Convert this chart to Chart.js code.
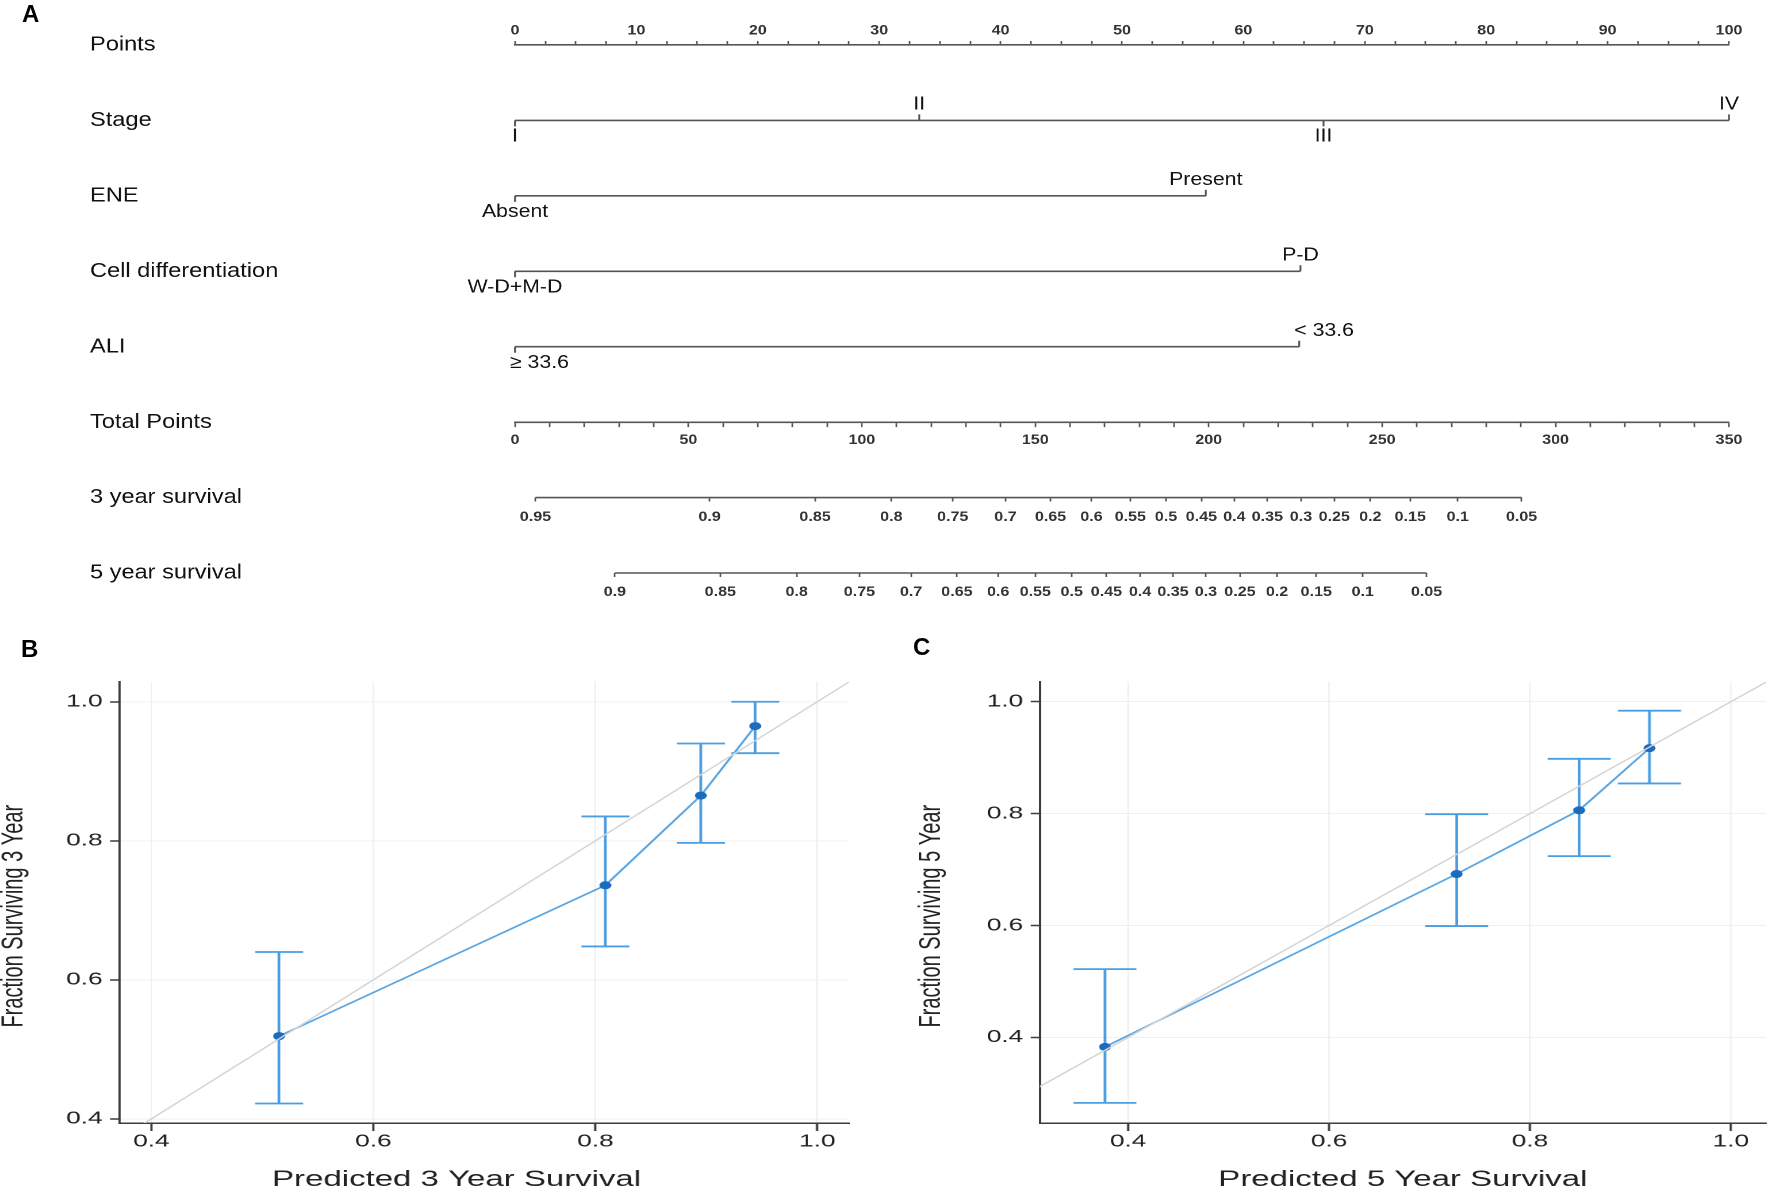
<!DOCTYPE html>
<html>
<head>
<meta charset="utf-8">
<title>Nomogram and calibration curves</title>
<script src="https://cdn.jsdelivr.net/npm/chart.js@4.4.1/dist/chart.umd.min.js"></script>
<style>
  html, body { margin: 0; padding: 0; background: #fff; }
  #page { position: relative; width: 1772px; height: 1188px; overflow: hidden; }
  #page canvas { position: absolute; }
  .tag { position: absolute; font: bold 24px "Liberation Sans", Arial, sans-serif; line-height: 24px; color: #000; }
</style>
</head>
<body>
<div id="page">
  <canvas id="nomogram"></canvas>
  <canvas id="cal3"></canvas>
  <canvas id="cal5"></canvas>
  <div class="tag" style="left:22px;top:2px">A</div>
  <div class="tag" style="left:21px;top:637px">B</div>
  <div class="tag" style="left:913px;top:635px">C</div>
</div>
<script>
// values
const rowNames = ['Points', 'Stage', 'ENE', 'Cell differentiation', 'ALI', 'Total Points', '3 year survival', '5 year survival'];

const stageLevels = ['I', 'II', 'III', 'IV'];
const stagePoints = [0, 33.3, 66.6, 100];
const eneLevels = ['Absent', 'Present'];
const enePoints = [0, 56.9];
const cellLevels = ['W-D+M-D', 'P-D'];
const cellPoints = [0, 64.7];
const aliLevels = ['\u2265 33.6', '< 33.6'];
const aliPoints = [0, 64.6];

const surv3Labels = ['0.95', '0.9', '0.85', '0.8', '0.75', '0.7', '0.65', '0.6', '0.55', '0.5', '0.45', '0.4', '0.35', '0.3', '0.25', '0.2', '0.15', '0.1', '0.05'];
const surv3Points = [5.9, 56.1, 86.5, 108.5, 126.2, 141.4, 154.4, 166.2, 177.4, 187.7, 197.9, 207.4, 216.9, 226.6, 236.2, 246.6, 258.1, 271.8, 290.2];
const surv5Labels = ['0.9', '0.85', '0.8', '0.75', '0.7', '0.65', '0.6', '0.55', '0.5', '0.45', '0.4', '0.35', '0.3', '0.25', '0.2', '0.15', '0.1', '0.05'];
const surv5Points = [28.8, 59.2, 81.2, 99.3, 114.2, 127.4, 139.3, 150.0, 160.5, 170.5, 180.2, 189.7, 199.2, 209.0, 219.7, 231.0, 244.4, 262.8];

const calTicks = [0.4, 0.6, 0.8, 1.0];
const pred3 = [0.515, 0.809, 0.895, 0.944];
const obs3 = [0.519, 0.736, 0.865, 0.965];
const lo3 = [0.422, 0.648, 0.797, 0.926];
const hi3 = [0.640, 0.835, 0.940, 1.000];
const pred5 = [0.377, 0.727, 0.849, 0.919];
const obs5 = [0.383, 0.692, 0.806, 0.917];
const lo5 = [0.283, 0.599, 0.724, 0.854];
const hi5 = [0.522, 0.799, 0.898, 0.984];
const refLine = [0, 1.2];

const FONT = '"Liberation Sans", Arial, sans-serif';
Chart.defaults.font.family = FONT;
Chart.defaults.color = '#222';

// the figure is stretched sideways, so each canvas is drawn narrow and widened by css
function prepCanvas(id, left, top, w, h, stretch) {
  const c = document.getElementById(id);
  c.width = Math.round(w / stretch);
  c.height = h;
  Object.assign(c.style, { left: left + 'px', top: top + 'px', width: w + 'px', height: h + 'px' });
  return { canvas: c, k: c.width / w };
}

// ---------- A: nomogram ----------
const A = prepCanvas('nomogram', 0, 0, 1772, 620, 1.15);
const kA = A.k;
const axisLeft = 515, axisRight = 1729, rowTop = 45, rowBottom = 573;
const inkA = '#555';
const rowStep = (rowBottom - rowTop) / (rowNames.length - 1);
const tickRows = 6 / rowStep;
const nomoTickFont = { size: 14, weight: 'bold' };

const factors = [
  { row: 1, levels: stageLevels, points: stagePoints, above: [false, true, false, true] },
  { row: 2, levels: eneLevels, points: enePoints, above: [false, true] },
  { row: 3, levels: cellLevels, points: cellPoints, above: [false, true] },
  { row: 4, levels: aliLevels, points: aliPoints, above: [false, true], align: 'left', shift: -5 }
];

const segment = (xs, row) => [{ x: Math.min(...xs), y: row }, { x: Math.max(...xs), y: row }];
const nomoLine = (data, xAxisID) => ({
  data, xAxisID, yAxisID: 'y', borderColor: inkA, borderWidth: 1.6,
  pointRadius: 0, spanGaps: false, clip: false
});

const nomoSets = [];
factors.forEach(f => {
  nomoSets.push(nomoLine(segment(f.points, f.row), 'x'));
  const marks = [];
  f.points.forEach((p, i) => {
    marks.push({ x: p, y: f.row }, { x: p, y: f.row + (f.above[i] ? -tickRows : tickRows) }, { x: p, y: null });
  });
  nomoSets.push(nomoLine(marks, 'x'));
});
nomoSets.push(nomoLine(segment(surv3Points, 6), 'xs3'));
nomoSets.push(nomoLine(segment(surv5Points, 7), 'xs5'));

const factorLabels = {
  id: 'factorLabels',
  afterDatasetsDraw(chart) {
    const { ctx, scales } = chart;
    ctx.save();
    ctx.font = '18.5px ' + FONT;
    ctx.fillStyle = '#111';
    ctx.textBaseline = 'middle';
    factors.forEach(f => {
      ctx.textAlign = f.align || 'center';
      f.levels.forEach((lab, i) => {
        const px = scales.x.getPixelForValue(f.points[i]) + (f.shift || 0) * kA;
        const py = scales.y.getPixelForValue(f.row) + (f.above[i] ? -16 : 16);
        ctx.fillText(lab, px, py);
      });
    });
    ctx.restore();
  }
};

function rowAxis(row, max, extra) {
  return Object.assign({
    type: 'linear', axis: 'x', position: { y: row }, min: 0, max: max,
    grid: { drawOnChartArea: false, drawTicks: true, tickLength: 4, tickColor: inkA, tickWidth: 1.4 },
    border: { display: true, color: inkA, width: 1.6 }
  }, extra);
}

new Chart(A.canvas, {
  type: 'line',
  data: { datasets: nomoSets },
  options: {
    responsive: false, devicePixelRatio: 2, animation: false,
    layout: { padding: { left: 90 * kA, right: A.canvas.width - axisRight * kA, top: 0, bottom: 620 - rowBottom } },
    plugins: { legend: { display: false }, tooltip: { enabled: false } },
    scales: {
      x: {
        type: 'linear', position: 'top', min: 0, max: 100,
        afterFit: s => { s.height = rowTop; },
        grid: { drawOnChartArea: false, tickLength: 4, tickColor: inkA, tickWidth: 1.4 },
        border: { color: inkA, width: 1.6 },
        ticks: {
          stepSize: 2.5, autoSkip: false, maxRotation: 0, padding: 2, color: '#333', font: nomoTickFont,
          callback: v => (v % 10 === 0 ? v : '')
        }
      },
      y: {
        type: 'linear', position: 'left', min: 0, max: rowNames.length - 1, reverse: true,
        afterFit: s => { s.width = (axisLeft - 90) * kA; },
        afterBuildTicks: s => { s.ticks = rowNames.map((n, i) => ({ value: i })); },
        grid: { display: false },
        border: { display: false },
        ticks: { crossAlign: 'far', color: '#111', font: { size: 20.5 }, callback: v => rowNames[v] }
      },
      xt: rowAxis(5, 350, {
        ticks: {
          stepSize: 10, autoSkip: false, maxRotation: 0, padding: 5.5, color: '#333', font: nomoTickFont,
          callback: v => (v % 50 === 0 ? v : '')
        }
      }),
      xs3: rowAxis(6, 350, {
        border: { display: false },
        afterBuildTicks: s => { s.ticks = surv3Points.map(v => ({ value: v })); },
        ticks: {
          autoSkip: false, maxRotation: 0, minRotation: 0, padding: 7, color: '#333', font: nomoTickFont,
          callback: (v, i) => surv3Labels[i]
        }
      }),
      xs5: rowAxis(7, 350, {
        border: { display: false },
        afterBuildTicks: s => { s.ticks = surv5Points.map(v => ({ value: v })); },
        ticks: {
          autoSkip: false, maxRotation: 0, minRotation: 0, padding: 6.6, color: '#333', font: nomoTickFont,
          callback: (v, i) => surv5Labels[i]
        }
      })
    }
  },
  plugins: [factorLabels]
});

// ---------- B, C: calibration plots ----------
function errorBars(xs, lo, hi, cap) {
  return {
    id: 'errorBars',
    beforeDatasetDraw(chart, args) {
      if (args.index !== 1) return;
      const { ctx, scales: { x, y } } = chart;
      ctx.save();
      ctx.strokeStyle = '#4a9de0';
      ctx.lineWidth = 1.8;
      xs.forEach((v, i) => {
        const px = x.getPixelForValue(v);
        const top = y.getPixelForValue(hi[i]);
        const bot = y.getPixelForValue(lo[i]);
        ctx.beginPath();
        ctx.moveTo(px, top); ctx.lineTo(px, bot);
        ctx.moveTo(px - cap, top); ctx.lineTo(px + cap, top);
        ctx.moveTo(px - cap, bot); ctx.lineTo(px + cap, bot);
        ctx.stroke();
      });
      ctx.restore();
    }
  };
}

const ink = '#3c3c3c';

function calibration(id, left, o) {
  const P = prepCanvas(id, left, 620, 886, 568, 1.5);
  const k = P.k;
  const padLeft = Math.max(0, o.yTitleAt * k - 10);
  const titlePad = o.yTitleAt * k - 10 - padLeft;
  return new Chart(P.canvas, {
    type: 'line',
    data: {
      datasets: [
        { data: refLine.map(v => ({ x: v, y: v })), borderColor: '#d4d4d4', borderWidth: 1.3, pointRadius: 0 },
        {
          data: o.pred.map((p, i) => ({ x: p, y: o.obs[i] })),
          borderColor: '#5aa6e2', borderWidth: 1.6,
          pointRadius: 4, pointBackgroundColor: '#1b6bbf', pointBorderWidth: 0
        }
      ]
    },
    options: {
      responsive: false, devicePixelRatio: 2, animation: false,
      layout: { padding: { left: padLeft, right: o.padRight * k, top: 61.6, bottom: 0 } },
      plugins: { legend: { display: false }, tooltip: { enabled: false } },
      scales: {
        x: {
          type: 'linear', min: o.xMin, max: o.xMax,
          afterBuildTicks: s => { s.ticks = calTicks.map(v => ({ value: v })); },
          afterFit: s => { s.height = 65; },
          grid: { color: '#f0f0f0', lineWidth: 1, tickColor: ink, tickLength: 8, tickWidth: 1.5 },
          border: { color: ink, width: 1.5 },
          ticks: { padding: 0, maxRotation: 0, color: '#222', font: { size: 17.5 }, callback: v => v.toFixed(1) },
          title: { display: true, text: o.xTitle, color: '#222', font: { size: 22, lineHeight: 1 }, padding: { top: 0, bottom: -3 } }
        },
        y: {
          type: 'linear', min: o.yMin, max: o.yMax,
          afterBuildTicks: s => { s.ticks = calTicks.map(v => ({ value: v })); },
          afterFit: s => { s.width = o.axisAt * k - padLeft; },
          grid: { color: '#f0f0f0', lineWidth: 1, tickColor: ink, tickLength: 6, tickWidth: 1.5 },
          border: { color: ink, width: 1.5 },
          ticks: { padding: 5, color: '#222', font: { size: 17.5 }, callback: v => v.toFixed(1) },
          title: { display: true, text: o.yTitle, color: '#222', font: { size: 20, lineHeight: 1 }, padding: { top: titlePad, bottom: 0 } }
        }
      }
    },
    plugins: [errorBars(o.pred, o.lo, o.hi, o.cap * k)]
  });
}

calibration('cal3', 0, {
  pred: pred3, obs: obs3, lo: lo3, hi: hi3,
  xMin: 0.371, xMax: 1.0285, yMin: 0.394, yMax: 1.029,
  axisAt: 119.2, padRight: 37, yTitleAt: 14, cap: 24,
  xTitle: 'Predicted 3 Year Survival      ', yTitle: 'Fraction Surviving 3 Year     '
});

calibration('cal5', 886, {
  pred: pred5, obs: obs5, lo: lo5, hi: hi5,
  xMin: 0.312, xMax: 1.035, yMin: 0.247, yMax: 1.036,
  axisAt: 153.7, padRight: 0, yTitleAt: 46, cap: 31.5,
  xTitle: 'Predicted 5 Year Survival', yTitle: 'Fraction Surviving 5 Year     '
});
</script>
</body>
</html>
